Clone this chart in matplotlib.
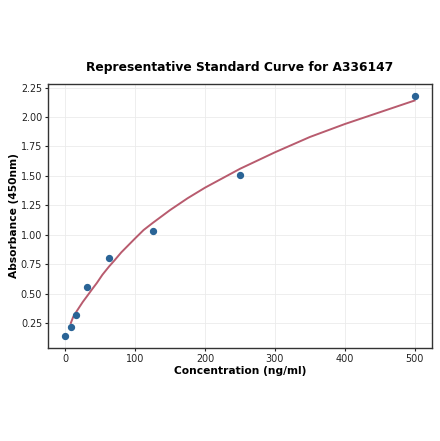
import matplotlib
matplotlib.use("Agg")
import matplotlib.pyplot as plt

# standard points
conc = [0, 7.8, 15.6, 31.25, 62.5, 125, 250, 500]
absorbance = [0.14, 0.22, 0.32, 0.56, 0.80, 1.03, 1.51, 2.18]

# fitted curve
fit_conc = [7.8, 11, 15.6, 20, 25, 31.25, 38, 45, 53, 62.5, 70, 80, 90, 100, 112, 125, 150, 175, 200, 225, 250,
            300, 350, 400, 450, 500]
fit_abs = [0.25, 0.30, 0.345, 0.385, 0.43, 0.48, 0.535, 0.59, 0.66, 0.73, 0.78, 0.85, 0.91, 0.97, 1.04, 1.10,
           1.21, 1.31, 1.40, 1.48, 1.56, 1.70, 1.83, 1.94, 2.04, 2.14]

fig = plt.figure(figsize=(4.4, 4.41), dpi=100)
ax = fig.add_axes([0.109, 0.211, 0.873, 0.599])

ax.plot(fit_conc, fit_abs, color='#b85b6e', lw=1.4, zorder=2)
ax.scatter(conc, absorbance, color='#2a6496', s=18, zorder=3)

ax.grid(True, color='#ebebeb', lw=0.6)
ax.set_axisbelow(True)
for s in ax.spines.values():
    s.set_color('#333333')
    s.set_linewidth(1.0)

ax.set_xticks([0, 100, 200, 300, 400, 500])
ax.set_yticks([0.25, 0.5, 0.75, 1.0, 1.25, 1.5, 1.75, 2.0, 2.25])
ax.tick_params(labelsize=6.9, length=2, pad=2.2, colors='#222222')

ax.set_xlabel("Concentration (ng/ml)", fontsize=7.7, fontweight='bold', labelpad=1.5)
ax.set_ylabel("Absorbance (450nm)", fontsize=7.7, fontweight='bold', labelpad=1.5)
ax.set_title("Representative Standard Curve for A336147", fontsize=8.8, fontweight='bold', pad=9)

fig.savefig("out.png", dpi=100)
